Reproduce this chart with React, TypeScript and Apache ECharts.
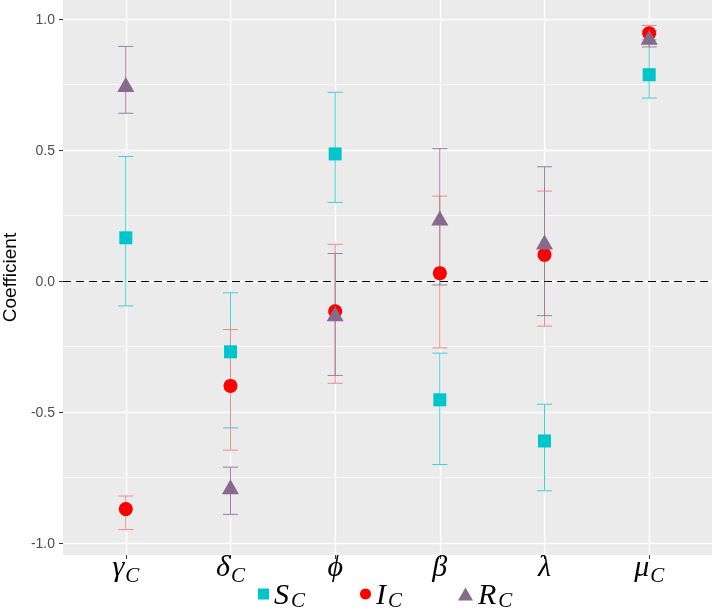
import React, { useEffect, useRef } from "react";
import * as echarts from "echarts";

const CATS = ["γ", "δ", "ϕ", "β", "λ", "μ"];
const SUBS = ["C", "C", "", "", "", "C"];
const X_POS = [0, 1, 2, 3, 4, 5];

const S_MEAN = [0.165, -0.27, 0.485, -0.453, -0.61, 0.787];
const S_LOW = [-0.095, -0.56, 0.3, -0.7, -0.8, 0.698];
const S_HIGH = [0.475, -0.045, 0.72, -0.275, -0.47, 0.92];

const I_MEAN = [-0.87, -0.4, -0.115, 0.03, 0.1, 0.945];
const I_LOW = [-0.948, -0.645, -0.39, -0.255, -0.172, 0.905];
const I_HIGH = [-0.82, -0.185, 0.14, 0.324, 0.343, 0.975];

const R_MEAN = [0.75, -0.785, -0.125, 0.24, 0.149, 0.93];
const R_LOW = [0.64, -0.89, -0.36, -0.015, -0.132, 0.893];
const R_HIGH = [0.895, -0.71, 0.105, 0.505, 0.436, 0.955];

const Y_MAJOR = [-1, -0.5, 0, 0.5, 1];
const Y_MINOR = [-0.75, -0.25, 0.25, 0.75];
const Y_MIN = -1.045;
const Y_MAX = 1.072;

const SERIES = [
  { name: "S", sub: "C", mean: S_MEAN, low: S_LOW, high: S_HIGH, color: "#00C5CD", bar: "#3FCFD6", symbol: "rect", size: 13 },
  { name: "I", sub: "C", mean: I_MEAN, low: I_LOW, high: I_HIGH, color: "#FF0000", bar: "#EE8A8A", symbol: "circle", size: 14 },
  { name: "R", sub: "C", mean: R_MEAN, low: R_LOW, high: R_HIGH, color: "#876A8C", bar: "#9A7F98", symbol: "triangle", size: [17, 15] },
];

const LEGEND_LEFT = [258, 360, 458];

const axisRich = {
  m: { fontFamily: "Liberation Serif", fontStyle: "italic", fontSize: 30, color: "#000", verticalAlign: "bottom", padding: [0, 0, 5, 0] },
  s: { fontFamily: "Liberation Serif", fontStyle: "italic", fontSize: 21, color: "#000", verticalAlign: "bottom", padding: [0, 0, 0, 1] },
};
const legendRich = {
  m: { fontFamily: "Liberation Serif", fontStyle: "italic", fontSize: 30, color: "#000", verticalAlign: "bottom", padding: [0, 0, 2, 0] },
  s: { fontFamily: "Liberation Serif", fontStyle: "italic", fontSize: 21, color: "#000", verticalAlign: "bottom", padding: [0, 0, 0, 2] },
};

export default function App() {
  const ref = useRef<HTMLDivElement>(null);
  useEffect(() => {
    if (!ref.current) return;
    const chart = echarts.init(ref.current, null, { renderer: "svg" });
    const series: any[] = [];
    SERIES.forEach((s) => {
      series.push({
        name: s.name + "_err",
        type: "custom",
        z: 2,
        data: X_POS.map((x, i) => [x, s.low[i], s.high[i]]),
        encode: { x: 0, y: [1, 2] },
        renderItem: (params: any, api: any) => {
          const x = api.value(0);
          const lo = api.coord([x, api.value(1)]);
          const hi = api.coord([x, api.value(2)]);
          const h = 7.5;
          const st = { stroke: s.bar, lineWidth: 1 };
          return {
            type: "group",
            children: [
              { type: "line", shape: { x1: lo[0], y1: lo[1], x2: hi[0], y2: hi[1] }, style: st },
              { type: "line", shape: { x1: lo[0] - h, y1: lo[1], x2: lo[0] + h, y2: lo[1] }, style: st },
              { type: "line", shape: { x1: hi[0] - h, y1: hi[1], x2: hi[0] + h, y2: hi[1] }, style: st },
            ],
          };
        },
      });
      series.push({
        name: s.name,
        type: "scatter",
        z: 3,
        symbol: s.symbol,
        symbolSize: s.size,
        itemStyle: { color: s.color, opacity: 1 },
        data: X_POS.map((x, i) => [x, s.mean[i]]),
      });
    });
    series[0].markLine = {
      silent: true,
      symbol: "none",
      label: { show: false },
      lineStyle: { color: "#000", type: [8, 5], width: 1 },
      data: [{ yAxis: 0 }],
    };

    const option: any = {
      animation: false,
      grid: {
        left: 63,
        right: 2,
        top: 0,
        bottom: 56,
        show: true,
        backgroundColor: "#EBEBEB",
        borderWidth: 0,
        containLabel: false,
        outerBoundsMode: "none",
      },
      xAxis: {
        type: "value",
        min: -0.6,
        max: 5.6,
        axisLine: { show: false, onZero: false },
        axisTick: { show: true, length: 4, lineStyle: { color: "#333", width: 1 }, customValues: X_POS },
        axisLabel: {
          customValues: X_POS,
          margin: -5,
          formatter: (v: number) => {
            const i = Math.round(v);
            return SUBS[i] ? `{m|${CATS[i]}}{s|${SUBS[i]}}` : `{m|${CATS[i]}}`;
          },
          rich: axisRich,
        },
        splitLine: { show: true, lineStyle: { color: "#FFFFFF", width: 1.4 } },
      },
      yAxis: [
        {
          type: "value",
          min: Y_MIN,
          max: Y_MAX,
          name: "Coefficient",
          nameLocation: "middle",
          nameGap: 44,
          nameTextStyle: { fontFamily: "Liberation Sans", fontSize: 19, color: "#000" },
          axisLine: { show: false, onZero: false },
          axisTick: { show: true, length: 4, lineStyle: { color: "#333" }, customValues: Y_MAJOR },
          axisLabel: {
            customValues: Y_MAJOR,
            margin: 8,
            fontFamily: "Liberation Sans",
            fontSize: 14,
            color: "#4D4D4D",
            formatter: (v: number) => v.toFixed(1),
          },
          splitLine: { show: true, lineStyle: { color: "#FFFFFF", width: 1.4 } },
        },
        {
          type: "value",
          min: Y_MIN,
          max: Y_MAX,
          position: "left",
          axisLine: { show: false, onZero: false },
          axisTick: { show: false, customValues: Y_MINOR },
          axisLabel: { show: false, customValues: Y_MINOR },
          splitLine: { show: true, lineStyle: { color: "#FFFFFF", width: 0.7 } },
        },
      ],
      legend: SERIES.map((s, k) => ({
        data: [{ name: s.name, icon: s.symbol }],
        left: LEGEND_LEFT[k],
        top: 578,
        padding: 0,
        itemWidth: s.symbol === "triangle" ? 15 : 11,
        itemHeight: s.symbol === "triangle" ? 13 : 11,
        itemGap: 2,
        selectedMode: false,
        formatter: () => `{m|${s.name}}{s|${s.sub}}`,
        textStyle: { rich: legendRich },
      })),
      series,
    };
    chart.setOption(option);
    return () => chart.dispose();
  }, []);
  return <div ref={ref} style={{ position: "fixed", left: 0, top: 0, width: 714, height: 611 }} />;
}
